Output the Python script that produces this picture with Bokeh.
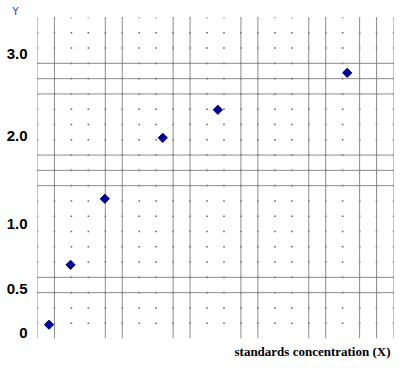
import math
from bokeh.plotting import figure
from bokeh.models import Range1d, FixedTicker, Title
from bokeh.embed import file_html
from bokeh.resources import INLINE

# data (in grid units of the graph paper)
x_vals = [0.68, 1.95, 3.97, 7.39, 10.64, 18.27]
y_vals = [0.90, 4.82, 9.14, 13.13, 14.96, 17.38]

# y tick labels and their positions
tick_pos = [0.36, 3.27, 7.52, 13.28, 18.61]
tick_labels = ["0", "0.5", "1.0", "2.0", "3.0"]

# graph-paper grid
n_cols = 21
n_rows = 21
solid_cols = [0, 1, 4, 5, 8, 9, 12, 13, 16, 17, 19, 20, 21]
solid_rows = [3, 4, 10, 11, 12, 16, 17, 18]

p = figure(width=417, height=368, output_backend="svg", toolbar_location=None,
           x_range=Range1d(0, n_cols), y_range=Range1d(0, n_rows),
           x_axis_location=None, y_axis_location="left",
           min_border_left=37, min_border_right=24, min_border_top=17,
           min_border_bottom=30)
p.outline_line_color = None
p.grid.visible = False
p.background_fill_color = "white"
p.border_fill_color = "white"

# y axis with labels only
ya = p.yaxis[0]
ya.ticker = FixedTicker(ticks=tick_pos)
ya.major_label_overrides = {t: l for t, l in zip(tick_pos, tick_labels)}
ya.axis_line_color = None
ya.major_tick_line_color = None
ya.minor_tick_line_color = None
ya.major_tick_out = 0
ya.major_tick_in = 0
ya.major_label_standoff = 10
ya.major_label_text_font = "Liberation Sans"
ya.major_label_text_font_style = "bold"
ya.major_label_text_font_size = "15px"
ya.major_label_text_color = "black"

# dots at every grid intersection
dx, dy = [], []
for c in range(n_cols + 1):
    for r in range(1, n_rows + 1):
        dx.append(c)
        dy.append(r)
p.scatter(dx, dy, marker="square", size=1.6, fill_color="#666666", line_color=None)

# solid grid lines
p.segment(x0=solid_cols, y0=[0] * len(solid_cols), x1=solid_cols, y1=[n_rows] * len(solid_cols),
          line_color="#8c8c8c", line_width=1)
p.segment(x0=[0] * len(solid_rows), y0=solid_rows, x1=[n_cols] * len(solid_rows), y1=solid_rows,
          line_color="#8c8c8c", line_width=1)

# data points
p.scatter(x_vals, y_vals, marker="square", angle=math.pi / 4, size=6.5,
          fill_color="#0000a0", line_color="#000060", line_width=1)

# axis titles
p.add_layout(Title(text="Y", align="left", offset=-25, standoff=2,
                   text_font="DejaVu Sans", text_font_style="normal",
                   text_font_size="10px", text_color="#3333cc"), "above")
p.add_layout(Title(text="standards concentration (X)", align="right", offset=3,
                   standoff=7, text_font="Liberation Serif", text_font_style="bold",
                   text_font_size="13px", text_color="black"), "below")

open("out.html", "w").write(file_html(p, INLINE))
